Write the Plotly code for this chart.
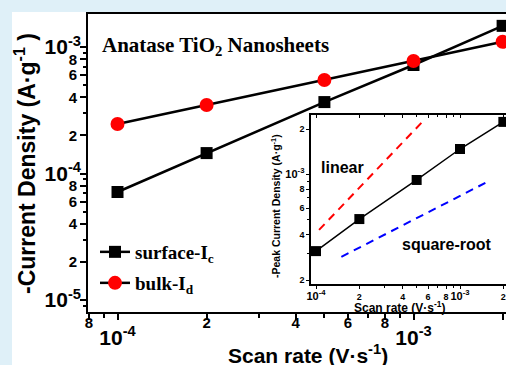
import plotly.graph_objects as go

# ---------------- data ----------------
scan_rate = [1e-4, 2e-4, 5e-4, 1e-3, 2e-3]
surface_Ic = [7.14e-5, 1.45e-4, 3.67e-4, 7.21e-4, 1.47e-3]
bulk_Id = [2.46e-4, 3.48e-4, 5.48e-4, 7.75e-4, 1.10e-3]
peak_current = [3.11e-4, 5.07e-4, 9.2e-4, 1.475e-3, 2.23e-3]
linear_x = [1.05e-4, 5.4e-4]
linear_y = [4.3e-4, 2.2e-3]
sqrt_x = [1.5e-4, 1.5e-3]
sqrt_y = [2.85e-4, 8.8e-4]

main_x_tickvals = [8e-5, 1e-4, 2e-4, 4e-4, 6e-4, 8e-4, 1e-3, 2e-3]
main_x_digit_vals = [8e-5, 2e-4, 4e-4, 6e-4, 8e-4, 2e-3]
main_x_digit_text = ["8", "2", "4", "6", "8", "2"]
main_x_pow_vals = [1e-4, 1e-3]
main_x_pow_text = ["10<sup>-4</sup>", "10<sup>-3</sup>"]
main_x_minor = [9e-5, 3e-4, 5e-4, 7e-4, 9e-4]

main_y_tickvals = [8e-6, 1e-5, 2e-5, 4e-5, 6e-5, 8e-5, 1e-4, 2e-4, 4e-4, 6e-4, 8e-4, 1e-3]
main_y_ticktext = ["8", " ", "2", "4", "6", "8", " ", "2", "4", "6", "8", " "]
main_y_pow_vals = [1e-5, 1e-4, 1e-3]
main_y_pow_text = ["10<sup>-5</sup>", "10<sup>-4</sup>", "10<sup>-3</sup>"]
main_y_minor = [9e-6, 3e-5, 5e-5, 7e-5, 9e-5, 3e-4, 5e-4, 7e-4, 9e-4]

SM = "<span style='font-size:11px'>%s</span>"
ins_x_tickvals = [1e-4, 2e-4, 4e-4, 6e-4, 8e-4, 1e-3, 2e-3]
ins_x_ticktext = [SM % "10<sup>-4</sup>", "2", "4", "6", "8", SM % "10<sup>-3</sup>", "2"]
ins_x_minor = [9e-5, 3e-4, 5e-4, 7e-4, 9e-4]
ins_y_tickvals = [2e-4, 4e-4, 6e-4, 8e-4, 1e-3, 2e-3]
ins_y_ticktext = ["2", "4", "6", "8", SM % "10<sup>-3</sup>", "2"]
ins_y_minor = [3e-4, 5e-4, 7e-4, 9e-4]

# ---------------- layout geometry ----------------
W, H = 506, 365
L, R, T, B = 88, 506, 14, 312


def px(x):
    return (x - L) / (R - L)


def py(y):
    return (B - y) / (B - T)


SANS = "Liberation Sans"
SERIF = "Liberation Serif"

fig = go.Figure()

fig.add_trace(go.Scatter(
    x=scan_rate, y=surface_Ic, mode="lines+markers", name="surface-I<sub>c</sub>",
    line=dict(color="black", width=2.5),
    marker=dict(symbol="square", size=12, color="black"),
    xaxis="x", yaxis="y", legend="legend"))
fig.add_trace(go.Scatter(
    x=scan_rate, y=bulk_Id, mode="lines+markers", name="bulk-I<sub>d</sub>",
    line=dict(color="black", width=2.5),
    marker=dict(symbol="circle", size=14, color="red"),
    xaxis="x", yaxis="y", legend="legend2"))

# invisible carriers so the overlaid label-only / tick-only axes get drawn
for xa, ya, yv in [("x3", "y", bulk_Id), ("x4", "y", bulk_Id), ("x", "y4", bulk_Id),
                   ("x5", "y2", peak_current)]:
    fig.add_trace(go.Scatter(
        x=scan_rate[:1], y=yv[:1], mode="markers", showlegend=False,
        marker=dict(size=1, opacity=0), hoverinfo="skip",
        xaxis=xa, yaxis=ya))

# inset
fig.add_trace(go.Scatter(
    x=linear_x, y=linear_y, mode="lines", showlegend=False,
    line=dict(color="red", width=2, dash="8px,6px"), xaxis="x2", yaxis="y2"))
fig.add_trace(go.Scatter(
    x=sqrt_x, y=sqrt_y, mode="lines", showlegend=False,
    line=dict(color="blue", width=2, dash="8px,6px"), xaxis="x2", yaxis="y2"))
fig.add_trace(go.Scatter(
    x=scan_rate, y=peak_current, mode="lines+markers", showlegend=False,
    line=dict(color="black", width=1.5),
    marker=dict(symbol="square", size=10, color="black"),
    xaxis="x2", yaxis="y2"))

xr_main = [-4.0997, -2.6875]
yr_main = [-5.095, -2.739]
common_main = dict(type="log", showgrid=False, zeroline=False, tickangle=0)
INS_L = 311
xr_ins = [-4.0486 + (INS_L - 309) / 144, -2.6806]

fig.update_layout(
    width=W, height=H,
    margin=dict(l=L, r=W - R, t=T, b=H - B, pad=0),
    paper_bgcolor="#dff0f8",
    plot_bgcolor="white",
    xaxis=dict(
        **common_main, domain=[0, 1], anchor="y", range=xr_main,
        tickmode="array", tickvals=main_x_tickvals, showticklabels=False,
        ticks="outside", ticklen=6, tickwidth=2, tickcolor="black",
        showline=True, linewidth=2, linecolor="black", mirror=True,
        minor=dict(tickmode="array", tickvals=main_x_minor, ticks="outside",
                   ticklen=4, tickwidth=1.5, tickcolor="black", showgrid=False),
    ),
    xaxis4=dict(
        **common_main, overlaying="x", anchor="y", side="bottom", range=xr_main,
        tickmode="array", tickvals=main_x_digit_vals, ticktext=main_x_digit_text,
        ticks="", showline=False,
        tickfont=dict(family=SANS, size=15, color="black", weight="bold"),
    ),
    xaxis3=dict(
        **common_main, overlaying="x", anchor="y", side="bottom", range=xr_main,
        tickmode="array", tickvals=main_x_pow_vals, ticktext=main_x_pow_text,
        ticks="", showline=False, ticklabelstandoff=11,
        tickfont=dict(family=SANS, size=21, color="black", weight="bold"),
    ),
    yaxis=dict(
        **common_main, domain=[0, 1], anchor="x", range=yr_main,
        tickmode="array", tickvals=main_y_tickvals, ticktext=main_y_ticktext,
        ticks="outside", ticklen=6, tickwidth=2, tickcolor="black",
        showline=True, linewidth=2, linecolor="black",
        tickfont=dict(family=SANS, size=15, color="black", weight="bold"),
        minor=dict(tickmode="array", tickvals=main_y_minor, ticks="outside",
                   ticklen=3, tickwidth=1.5, tickcolor="black", showgrid=False),
    ),
    yaxis4=dict(
        **common_main, overlaying="y", anchor="x", side="left", range=yr_main,
        tickmode="array", tickvals=main_y_pow_vals, ticktext=main_y_pow_text,
        ticks="", showline=False, ticklabelstandoff=6,
        tickfont=dict(family=SANS, size=21, color="black", weight="bold"),
    ),
    xaxis2=dict(
        type="log", showgrid=False, zeroline=False, tickangle=0,
        domain=[px(INS_L), 1], anchor="y2", range=xr_ins,
        tickmode="array", tickvals=ins_x_tickvals, ticktext=ins_x_ticktext,
        ticks="outside", ticklen=3, tickwidth=1.2, tickcolor="black",
        showline=True, linewidth=1.5, linecolor="black", mirror=True,
        tickfont=dict(family=SANS, size=9, color="black", weight="bold"),
        minor=dict(tickmode="array", tickvals=ins_x_minor, ticks="outside",
                   ticklen=2, tickwidth=1, tickcolor="black", showgrid=False),
    ),
    xaxis5=dict(
        type="log", showgrid=False, zeroline=False,
        overlaying="x2", anchor="y2", side="top", range=xr_ins,
        tickmode="array", tickvals=ins_x_tickvals, showticklabels=False,
        ticks="inside", ticklen=3, tickwidth=1.2, tickcolor="black", showline=False,
        minor=dict(tickmode="array", tickvals=ins_x_minor, ticks="inside",
                   ticklen=2, tickwidth=1, tickcolor="black", showgrid=False),
    ),
    yaxis2=dict(
        type="log", showgrid=False, zeroline=False, tickangle=0,
        domain=[py(284), py(115)], anchor="x2", range=[-3.725, -2.606],
        tickmode="array", tickvals=ins_y_tickvals, ticktext=ins_y_ticktext,
        ticks="outside", ticklen=3, tickwidth=1.2, tickcolor="black",
        showline=True, linewidth=1.5, linecolor="black",
        tickfont=dict(family=SANS, size=9, color="black", weight="bold"),
        minor=dict(tickmode="array", tickvals=ins_y_minor, ticks="outside",
                   ticklen=2, tickwidth=1, tickcolor="black", showgrid=False),
    ),
    legend=dict(x=px(95), y=py(252), xanchor="left", yanchor="middle",
                bgcolor="rgba(0,0,0,0)", borderwidth=0,
                font=dict(family=SERIF, size=19, color="black", weight="bold")),
    legend2=dict(x=px(95), y=py(283), xanchor="left", yanchor="middle",
                 bgcolor="rgba(0,0,0,0)", borderwidth=0,
                 font=dict(family=SERIF, size=19, color="black", weight="bold")),
    showlegend=True,
)

# white figure area over light-blue page
fig.add_shape(type="rect", xref="paper", yref="paper",
              x0=px(12), x1=px(520), y0=py(380), y1=py(12),
              fillcolor="white", line=dict(width=0), layer="below")

ann_font = dict(family=SANS, color="black", weight="bold")
fig.add_annotation(x=px(100), y=py(46), xref="paper", yref="paper",
                   text="Anatase TiO<sub>2</sub> Nanosheets", showarrow=False,
                   xanchor="left", yanchor="middle",
                   font=dict(family=SERIF, size=21, color="black", weight="bold"))
fig.add_annotation(x=px(25), y=py(164), xref="paper", yref="paper",
                   text="-Current Density (A·g<sup>-1</sup> )", textangle=-90,
                   showarrow=False, xanchor="center", yanchor="middle",
                   font=dict(size=23, **ann_font))
fig.add_annotation(x=px(308), y=py(354), xref="paper", yref="paper",
                   text="Scan rate (V·s<sup>-1</sup>)", showarrow=False,
                   xanchor="center", yanchor="middle",
                   font=dict(size=21, **ann_font))
fig.add_annotation(x=px(275), y=py(206), xref="paper", yref="paper",
                   text="-Peak Current Density (A·g<sup>-1</sup>)", textangle=-90,
                   showarrow=False, xanchor="center", yanchor="middle",
                   font=dict(size=10.5, **ann_font))
fig.add_annotation(x=px(400), y=py(306.5), xref="paper", yref="paper",
                   text="Scan rate (V·s<sup>-1</sup>)", showarrow=False,
                   xanchor="center", yanchor="middle",
                   font=dict(size=12, **ann_font))
fig.add_annotation(x=px(342), y=py(167), xref="paper", yref="paper",
                   text="linear", showarrow=False,
                   xanchor="center", yanchor="middle",
                   font=dict(size=16, **ann_font))
fig.add_annotation(x=px(447), y=py(245), xref="paper", yref="paper",
                   text="square-root", showarrow=False,
                   xanchor="center", yanchor="middle",
                   font=dict(size=16, **ann_font))

fig.write_html(
    "out.html",
    config={"displayModeBar": False},
    post_script="document.body.style.margin='0';document.body.style.overflow='hidden';",
)
